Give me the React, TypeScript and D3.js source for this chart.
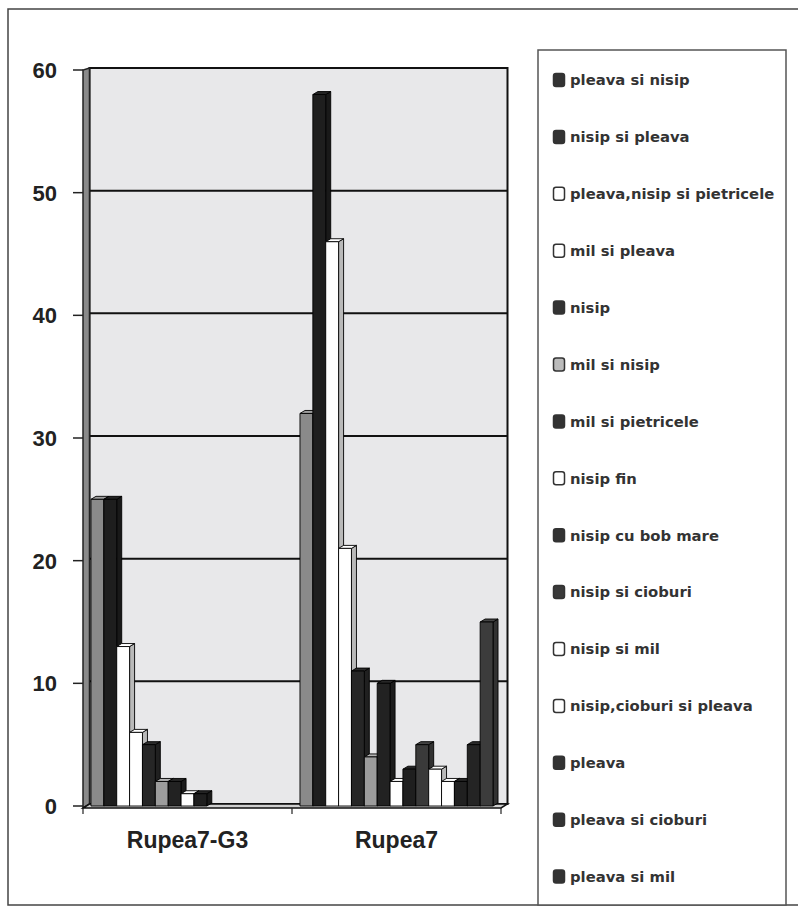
import React from "react";
import * as d3 from "d3";

const categories = ["Rupea7-G3", "Rupea7"];
const seriesNames = [
  "pleava si nisip",
  "nisip si pleava",
  "pleava,nisip si pietricele",
  "mil si pleava",
  "nisip",
  "mil si nisip",
  "mil si pietricele",
  "nisip fin",
  "nisip cu bob mare",
  "nisip si cioburi",
  "nisip si mil",
  "nisip,cioburi si pleava",
  "pleava",
  "pleava si cioburi",
  "pleava si mil",
];
const valuesRupea7G3 = [25, 25, 13, 6, 5, 2, 2, 1, 1, 0, 0, 0, 0, 0, 0];
const valuesRupea7 = [32, 58, 46, 21, 11, 4, 10, 2, 3, 5, 3, 2, 2, 5, 15];
const yTicks = [0, 10, 20, 30, 40, 50, 60];

const seriesColors = [
  "#8a8a8a", "#1e1e1e", "#ffffff", "#ffffff", "#262626",
  "#9c9c9c", "#222222", "#ffffff", "#1f1f1f", "#3a3a3a",
  "#ffffff", "#ffffff", "#202020", "#242424", "#3c3c3c",
];
const swatchColors = [
  "#333", "#333", "#fff", "#fff", "#333",
  "#bbb", "#333", "#fff", "#333", "#3a3a3a",
  "#fff", "#fff", "#333", "#333", "#333",
];

const dataByCategory = [valuesRupea7G3, valuesRupea7];

export default function App() {
  const W = 798, H = 909;
  const x0 = d3.scaleBand<string>().domain(categories).range([83, 501]).paddingInner(0).paddingOuter(0);
  const xi = d3.scaleBand<number>().domain(d3.range(seriesNames.length)).range([0, x0.bandwidth()]).paddingInner(0).paddingOuter(0.62);
  const yF = d3.scaleLinear().domain([0, 60]).range([806, 70]);
  const yB = d3.scaleLinear().domain([0, 60]).range([804, 68]);
  const wallDx = 6.5;
  const bdx = 5, bdy = 3;
  const font = "'Liberation Sans', Arial, sans-serif";

  const bars: React.ReactNode[] = [];
  categories.forEach((c, ci) => {
    const vals = dataByCategory[ci];
    vals.forEach((v, si) => {
      if (v <= 0) return;
      const x = (x0(c) as number) + (xi(si) as number);
      const w = xi.bandwidth();
      const yt = yF(v), yb = yF(0);
      const col = seriesColors[si];
      const side = d3.color(col)!.darker(col === "#ffffff" ? 0.9 : 0.5).toString();
      const top = d3.color(col)!.brighter(col === "#ffffff" ? 0 : 0.4).toString();
      bars.push(
        <g key={`${ci}-${si}`} stroke="#000" strokeWidth={0.9} strokeLinejoin="round">
          <polygon points={`${x + w},${yt} ${x + w + bdx},${yt - bdy} ${x + w + bdx},${yb - bdy} ${x + w},${yb}`} fill={side} />
          <polygon points={`${x},${yt} ${x + bdx},${yt - bdy} ${x + w + bdx},${yt - bdy} ${x + w},${yt}`} fill={top} />
          <rect x={x} y={yt} width={w} height={yb - yt} fill={col} />
        </g>
      );
    });
  });

  const wallL = 83 + wallDx, wallR = 501 + wallDx;

  return (
    <svg width={W} height={H} style={{ position: "absolute", left: 0, top: 0, background: "#fff" }}>
      <rect x={8} y={9} width={800} height={896} fill="#fff" stroke="#444" strokeWidth={1.5} />
      <rect x={wallL} y={yB(60)} width={wallR - wallL} height={yB(0) - yB(60)} fill="#e8e8ea" stroke="#111" strokeWidth={2} />
      {yTicks.map((t) => (
        <line key={t} x1={wallL} x2={wallR} y1={yB(t)} y2={yB(t)} stroke="#111" strokeWidth={2} />
      ))}
      <polygon points={`83,${yF(0) + 2} 83,${yF(60)} ${wallL},${yB(60)} ${wallL},${yB(0)}`} fill="#8a8a8a" stroke="#222" strokeWidth={1.5} />
      <polygon points={`83,${yF(0) + 2} 501,${yF(0) + 2} ${wallR},${yB(0)} ${wallL},${yB(0)}`} fill="#cfcfcf" stroke="#111" strokeWidth={1.5} />
      {bars}
      {yTicks.map((t) => (
        <g key={t}>
          <line x1={73} x2={83} y1={yF(t)} y2={yF(t)} stroke="#222" strokeWidth={1.5} />
          <text x={57} y={yF(t)} dy="0.36em" textAnchor="end" fontFamily={font} fontWeight="bold" fontSize={22} fill="#222">{t}</text>
        </g>
      ))}
      {[83, 292, 501].map((xx) => (
        <line key={xx} x1={xx} x2={xx} y1={yF(0) + 2} y2={yF(0) + 8} stroke="#222" strokeWidth={1.2} />
      ))}
      {categories.map((c) => (
        <text key={c} x={(x0(c) as number) + x0.bandwidth() / 2} y={848} textAnchor="middle" fontFamily={font} fontWeight="bold" fontSize={23} fill="#222">{c}</text>
      ))}
      <rect x={538} y={50} width={248} height={855} fill="#fff" stroke="#555" strokeWidth={1.5} />
      {seriesNames.map((n, i) => {
        const cy = 80 + i * 56.9;
        return (
          <g key={n}>
            <rect x={553.5} y={cy - 6.5} width={11} height={13} rx={2.5} fill={swatchColors[i]} stroke="#333" strokeWidth={1.5} />
            <text x={570} y={cy} dy="0.36em" fontFamily="'DejaVu Sans', sans-serif" fontWeight="bold" fontSize={14.8} fill="#333">{n}</text>
          </g>
        );
      })}
    </svg>
  );
}
